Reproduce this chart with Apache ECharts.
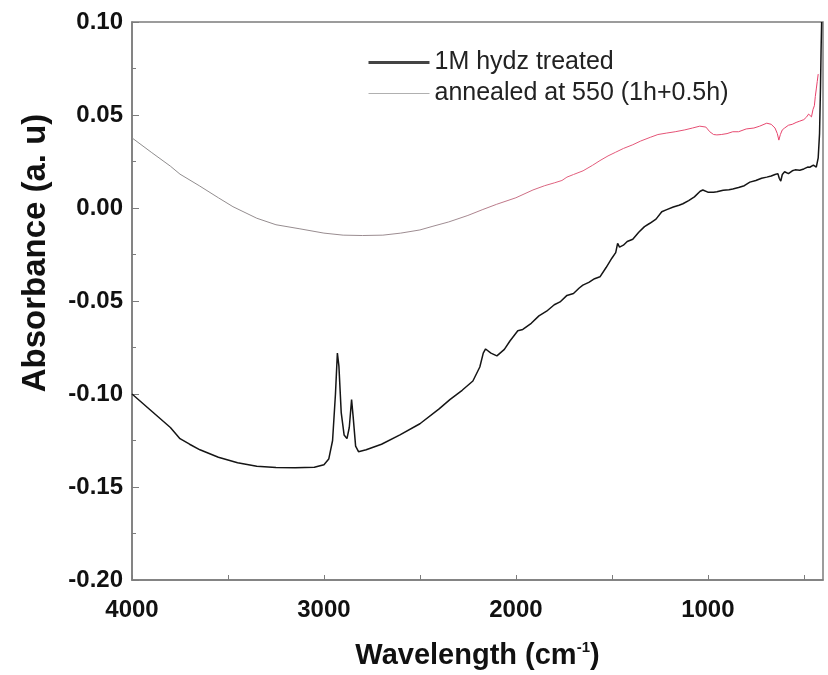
<!DOCTYPE html>
<html>
<head>
<meta charset="utf-8">
<script src="https://cdn.jsdelivr.net/npm/echarts@6/dist/echarts.min.js"></script>
<style>
  html, body { margin: 0; padding: 0; background: #fff; }
  #chart { width: 828px; height: 675px; }
</style>
</head>
<body>
<div id="chart"></div>
<script>
// wavenumber (cm-1), absorbance pairs
const hydzTreated = [
    [4000, -0.100], [3900, -0.109], [3800, -0.118], [3750, -0.124], [3700, -0.127],
    [3646, -0.130], [3550, -0.134], [3450, -0.137], [3350, -0.1388], [3250, -0.1395],
    [3150, -0.1396], [3050, -0.1394], [3000, -0.138], [2975, -0.135], [2955, -0.125],
    [2940, -0.100], [2930, -0.078], [2922, -0.085], [2910, -0.110], [2895, -0.122],
    [2880, -0.124], [2868, -0.118], [2856, -0.103], [2848, -0.112], [2835, -0.128],
    [2820, -0.131], [2780, -0.130], [2700, -0.127], [2604, -0.122], [2500, -0.116],
    [2400, -0.108], [2344, -0.103], [2280, -0.098], [2224, -0.093], [2188, -0.0855],
    [2170, -0.078], [2158, -0.0758], [2130, -0.078], [2099, -0.0795], [2060, -0.076],
    [2031, -0.0715], [2005, -0.068], [1990, -0.066], [1964, -0.0653], [1920, -0.062],
    [1880, -0.058], [1840, -0.0555], [1800, -0.052], [1770, -0.0505], [1734, -0.047],
    [1700, -0.046], [1670, -0.043], [1651, -0.0415], [1620, -0.040], [1590, -0.038],
    [1562, -0.037], [1530, -0.032], [1500, -0.027], [1480, -0.024], [1470, -0.019],
    [1460, -0.021], [1440, -0.020], [1420, -0.018], [1391, -0.0168], [1360, -0.013],
    [1330, -0.010], [1302, -0.0082], [1270, -0.006], [1240, -0.002], [1214, -0.0009],
    [1180, 0.0005], [1150, 0.0015], [1130, 0.0023], [1100, 0.004], [1070, 0.006],
    [1040, 0.009], [1026, 0.0097], [1000, 0.0085], [970, 0.0085], [953, 0.0087],
    [920, 0.0095], [890, 0.0098], [870, 0.0102], [840, 0.011], [810, 0.012],
    [781, 0.0139], [750, 0.0148], [720, 0.016], [693, 0.0166], [670, 0.0172],
    [650, 0.018], [635, 0.0185], [628, 0.016], [620, 0.0145], [612, 0.018],
    [600, 0.0195], [580, 0.0185], [560, 0.020], [545, 0.0205], [521, 0.0203],
    [500, 0.021], [480, 0.022], [469, 0.0219], [450, 0.023], [435, 0.022],
    [425, 0.027], [418, 0.040], [413, 0.065], [410, 0.085], [407, 0.100]
];

const annealed = [
    [4000, 0.0377], [3900, 0.030], [3800, 0.0225], [3750, 0.0182], [3650, 0.012],
    [3550, 0.0055], [3474, 0.0007], [3350, -0.0055], [3250, -0.009], [3125, -0.0112],
    [3000, -0.0135], [2900, -0.0146], [2800, -0.0148], [2693, -0.0146], [2600, -0.0135],
    [2500, -0.0118], [2432, -0.0098], [2350, -0.0075], [2250, -0.004], [2172, -0.0008],
    [2100, 0.002], [2000, 0.0055], [1911, 0.0097], [1850, 0.012], [1800, 0.0135],
    [1760, 0.0148], [1734, 0.0166], [1700, 0.018], [1650, 0.020], [1600, 0.023],
    [1562, 0.0255], [1520, 0.028], [1480, 0.030], [1440, 0.032], [1391, 0.034],
    [1350, 0.036], [1300, 0.038], [1260, 0.0395], [1214, 0.0403], [1170, 0.041],
    [1120, 0.042], [1080, 0.043], [1042, 0.044], [1010, 0.0435], [990, 0.041],
    [970, 0.0395], [953, 0.0393], [930, 0.0395], [900, 0.040], [870, 0.041],
    [840, 0.041], [800, 0.0425], [760, 0.043], [730, 0.044], [693, 0.0456],
    [670, 0.045], [650, 0.043], [638, 0.040], [630, 0.0365], [622, 0.0395],
    [612, 0.042], [600, 0.043], [580, 0.0445], [560, 0.045], [540, 0.046],
    [521, 0.0467], [500, 0.0475], [485, 0.049], [475, 0.0505], [469, 0.0509],
    [460, 0.049], [452, 0.053], [445, 0.055], [440, 0.060], [435, 0.064],
    [430, 0.068], [425, 0.072]
];

const seriesNames = ['1M hydz treated', 'annealed at 550 (1h+0.5h)'];
const xLabelValues = [4000, 3000, 2000, 1000];
const xTickValues = [4000, 3500, 3000, 2500, 2000, 1500, 1000, 500];

const FONT = '"Liberation Sans", Arial, sans-serif';
const AXIS_GREY = '#7c7c7c';

const chart = echarts.init(document.getElementById('chart'), null, { renderer: 'canvas' });

const option = {
    backgroundColor: '#ffffff',
    animation: false,
    grid: {
        left: 132,
        right: 5,
        top: 22,
        bottom: 85,
        show: true,
        borderColor: AXIS_GREY,
        borderWidth: 1.5,
        containLabel: false
    },
    legend: {
        orient: 'vertical',
        left: 362,
        top: 45,
        itemWidth: 61,
        itemHeight: 14,
        itemGap: 6,
        itemStyle: { color: 'transparent', borderWidth: 0, opacity: 0 },
        textStyle: { fontFamily: FONT, fontSize: 25, color: '#222' },
        data: [
            { name: seriesNames[0], lineStyle: { color: '#444', width: 3 } },
            { name: seriesNames[1], lineStyle: { color: '#b0b0b0', width: 1 } }
        ]
    },
    xAxis: {
        type: 'value',
        inverse: true,
        min: 400,
        max: 4000,
        name: 'Wavelength (cm{sup|-1})',
        nameLocation: 'middle',
        nameGap: 60,
        nameTextStyle: {
            fontFamily: FONT, fontSize: 29, fontWeight: 'bold', color: '#111',
            rich: {
                sup: { fontFamily: FONT, fontSize: 15, fontWeight: 'bold', color: '#111', padding: [0, 0, 16, 0] }
            }
        },
        axisLine: { onZero: false, lineStyle: { color: AXIS_GREY, width: 1.5 } },
        axisTick: { inside: true, length: 5, customValues: xTickValues, lineStyle: { color: AXIS_GREY } },
        axisLabel: {
            customValues: xLabelValues,
            margin: 18,
            fontFamily: FONT, fontSize: 24, fontWeight: 'bold', color: '#111',
            formatter: v => String(v)
        },
        splitLine: { show: false }
    },
    yAxis: {
        type: 'value',
        min: -0.2,
        max: 0.1,
        interval: 0.05,
        axisLine: { show: true, onZero: false, lineStyle: { color: AXIS_GREY, width: 1.5 } },
        axisTick: { inside: true, length: 7, lineStyle: { color: AXIS_GREY } },
        minorTick: { show: true, splitNumber: 2, length: 4, lineStyle: { color: AXIS_GREY } },
        axisLabel: {
            margin: 9,
            fontFamily: FONT, fontSize: 24, fontWeight: 'bold', color: '#111',
            formatter: v => v.toFixed(2)
        },
        splitLine: { show: false }
    },
    graphic: [
        {
            type: 'text',
            x: 36,
            y: 253,
            rotation: Math.PI / 2,
            style: {
                text: 'Absorbance (a. u)',
                fontFamily: FONT,
                fontSize: 33,
                fontWeight: 'bold',
                fill: '#111',
                align: 'center',
                verticalAlign: 'middle'
            }
        }
    ],
    series: [
        {
            name: seriesNames[0],
            type: 'line',
            symbol: 'none',
            data: hydzTreated,
            lineStyle: { color: '#151515', width: 1.5 },
            z: 3
        },
        {
            name: seriesNames[1],
            type: 'line',
            symbol: 'none',
            data: annealed,
            lineStyle: {
                width: 1,
                color: new echarts.graphic.LinearGradient(0, 0, 1, 0, [
                    { offset: 0, color: '#8c8c8c' },
                    { offset: 0.47, color: '#a08c92' },
                    { offset: 0.62, color: '#e2607e' },
                    { offset: 1, color: '#e8406a' }
                ])
            },
            z: 2
        }
    ]
};

chart.setOption(option);
</script>
</body>
</html>
